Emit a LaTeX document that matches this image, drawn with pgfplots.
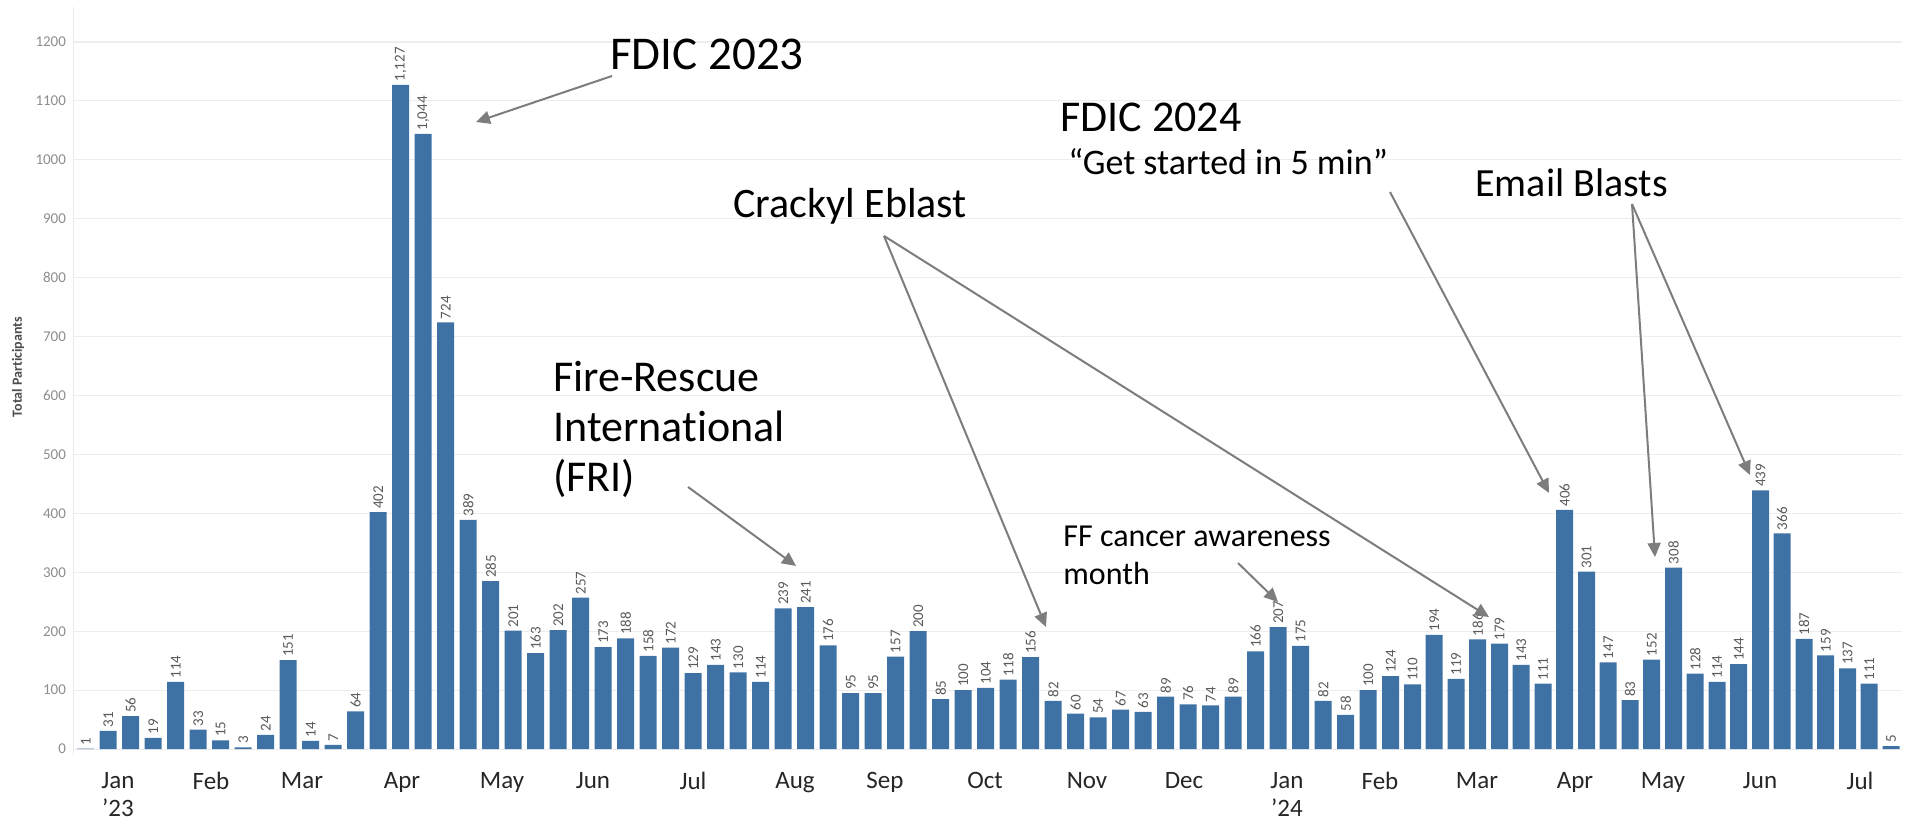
\documentclass[border=0pt]{standalone}
\usepackage{pgfplots}
\pgfplotsset{compat=1.18}
\usepackage{pgfplotstable}
\usepackage{fontspec}
\setmainfont{Carlito}[RawFeature={-liga;-clig;-calt;-dlig}]
\usetikzlibrary{arrows.meta}
\definecolor{barblue}{RGB}{63,114,164}
\definecolor{arrowgray}{RGB}{125,125,125}
\definecolor{valgray}{RGB}{90,90,90}
\definecolor{tickgray}{RGB}{140,140,140}

\pgfplotstableread{
x v
85.7 1
108.2 31
130.7 56
153.2 19
175.7 114
198.2 33
220.7 15
243.2 3
265.7 24
288.2 151
310.7 14
333.2 7
355.7 64
378.2 402
400.7 1127
423.2 1044
445.7 724
468.2 389
490.7 285
513.2 201
535.7 163
558.2 202
580.7 257
603.2 173
625.7 188
648.2 158
670.7 172
693.2 129
715.7 143
738.2 130
760.7 114
783.2 239
805.7 241
828.2 176
850.7 95
873.2 95
895.7 157
918.2 200
940.7 85
963.2 100
985.7 104
1008.2 118
1030.7 156
1053.2 82
1075.7 60
1098.2 54
1120.7 67
1143.2 63
1165.7 89
1188.2 76
1210.7 74
1233.2 89
1255.7 166
1278.2 207
1300.7 175
1323.2 82
1345.7 58
1368.2 100
1390.7 124
1412.5 110
1434.2 194
1456.0 119
1477.7 186
1499.5 179
1521.2 143
1543.0 111
1564.7 406
1586.5 301
1608.2 147
1630.0 83
1651.7 152
1673.5 308
1695.2 128
1717.0 114
1738.7 144
1760.5 439
1782.2 366
1804.0 187
1825.7 159
1847.5 137
1869.2 111
1891.0 5
}\data

\begin{document}
\begin{tikzpicture}
\useasboundingbox (0,0) rectangle (960pt,411pt);
\begin{axis}[
  at={(36.5pt,33.5pt)}, anchor=south west,
  scale only axis, width=914.5pt, height=374.2pt,
  xmin=73, xmax=1902, ymin=-10, ymax=1260,
  ybar, bar width=8.5pt, bar shift=0pt,
  axis line style={draw=none},
  tick style={draw=none},
  ytick={0,100,...,1200},
  ymajorgrids, grid style={color=black!7, line width=0.6pt},
  /pgf/number format/assume math mode=true,
  /pgf/number format/1000 sep={},
  yticklabel style={font=\fontsize{7.5}{9}\selectfont, text=tickgray},
  xtick={118,211,302,402,502,593,693,795,885,985,1087,1184,1287,1380,1477,1575,1663,1760,1860},
  xticklabels={{Jan\\’23},Feb,Mar,Apr,May,Jun,Jul,Aug,Sep,Oct,Nov,Dec,{Jan\\’24},Feb,Mar,Apr,May,Jun,Jul},
  xticklabel style={font=\fontsize{12.5}{14}\selectfont, text=black!85, align=center, anchor=north, yshift=-1pt},
  nodes near coords,
  every node near coord/.append style={font=\fontsize{7.5}{8.5}\selectfont, text=valgray, rotate=90, anchor=west, inner sep=1.5pt, /pgf/number format/1000 sep={,}},
]
\addplot[fill=barblue, draw=none] table[x=x, y=v] {\data};
\end{axis}
\begin{scope}[shift={(0pt,411pt)}, x=0.5pt, y=-0.5pt]
  \draw[black!8, line width=0.5pt] (73,7) -- (73,755);
  \node[rotate=90, font=\bfseries\fontsize{7}{8}\selectfont, text=black!70] at (18,367) {Total Participants};
  % annotations
  \node[anchor=base west, font=\fontsize{23.5}{28}\selectfont, inner sep=0] at (610,70) {FDIC 2023};
  \node[anchor=base west, font=\fontsize{22}{26}\selectfont, inner sep=0] at (553,392) {Fire-Rescue};
  \node[anchor=base west, font=\fontsize{22}{26}\selectfont, inner sep=0] at (553,442) {International};
  \node[anchor=base west, font=\fontsize{22}{26}\selectfont, inner sep=0] at (553,492) {(FRI)};
  \node[anchor=base west, font=\fontsize{21}{25}\selectfont, inner sep=0] at (733,218) {Crackyl Eblast};
  \node[anchor=base west, font=\fontsize{22}{26}\selectfont, inner sep=0] at (1060,132) {FDIC 2024};
  \node[anchor=base west, font=\fontsize{18}{22}\selectfont, inner sep=0] at (1068,175) {“Get started in 5 min”};
  \node[anchor=base west, font=\fontsize{20}{24}\selectfont, inner sep=0] at (1475,197) {Email Blasts};
  \node[anchor=base west, font=\fontsize{16}{19}\selectfont, inner sep=0] at (1063,547) {FF cancer awareness};
  \node[anchor=base west, font=\fontsize{16}{19}\selectfont, inner sep=0] at (1063,585) {month};
  % arrows
  \begin{scope}[arrowgray, line width=1pt, -{Triangle[length=7pt,width=6.5pt]}]
    \draw (612,76) -- (476,122);
    \draw (688,487) -- (796,566);
    \draw (884,236) -- (1046,627);
    \draw (884,236) -- (1489,617);
    \draw (1390,192) -- (1549,493);
    \draw (1632,204) -- (1655,557);
    \draw (1632,204) -- (1750,475);
    \draw (1238,563) -- (1278,602);
  \end{scope}
\end{scope}
\end{tikzpicture}
\end{document}
